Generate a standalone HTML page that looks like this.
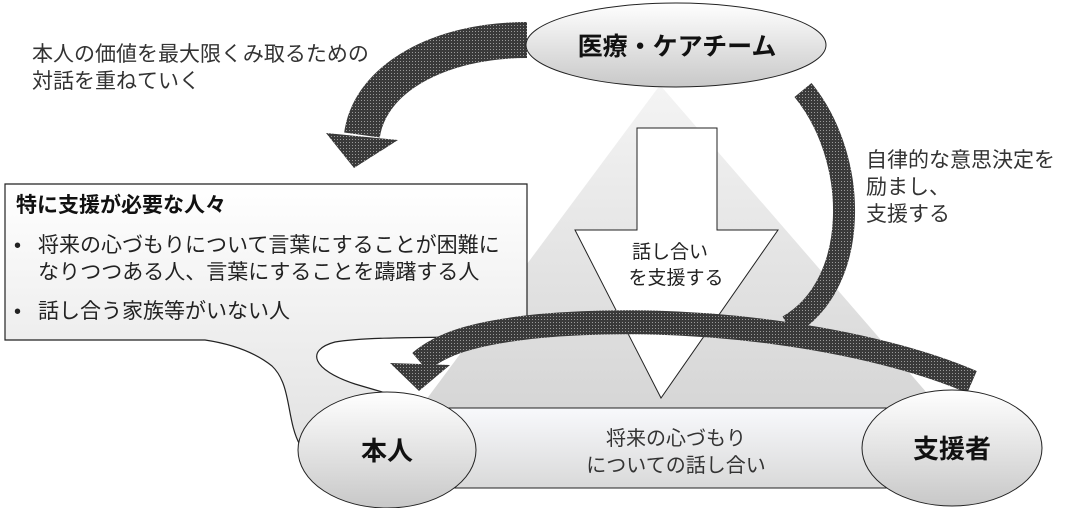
<!DOCTYPE html>
<html><head><meta charset="utf-8"><style>
body{margin:0;background:#fff;}
svg{display:block;font-family:"Liberation Sans","Noto Sans CJK JP",sans-serif;}
</style></head><body>
<svg width="1072" height="508" viewBox="0 0 1072 508" xmlns="http://www.w3.org/2000/svg">
<defs>
<pattern id="dots" width="3" height="3" patternUnits="userSpaceOnUse">
<rect width="3" height="3" fill="#3a3a3a"/><rect x="1" y="1" width="1" height="1" fill="#9a9a9a"/>
</pattern>
<linearGradient id="tri" x1="0" y1="0" x2="0" y2="1">
<stop offset="0" stop-color="#f4f4f4"/><stop offset="1" stop-color="#d6d6d6"/></linearGradient>
<linearGradient id="ell" x1="0" y1="0" x2="0" y2="1">
<stop offset="0" stop-color="#ffffff"/><stop offset="1" stop-color="#c8c8c8"/></linearGradient>
<linearGradient id="box" x1="0" y1="0" x2="0" y2="1">
<stop offset="0" stop-color="#ffffff"/><stop offset="1" stop-color="#e2e2e2"/></linearGradient>
<linearGradient id="bar" x1="0" y1="0" x2="0" y2="1">
<stop offset="0" stop-color="#f8f9fc"/><stop offset="1" stop-color="#d9d9d9"/></linearGradient>
</defs>

<polygon points="660,85 420,408 940,408" fill="url(#tri)"/>
<rect x="400" y="408" width="510" height="80" fill="url(#bar)" stroke="#222" stroke-width="1"/>
<text x="676" y="445" font-size="20" text-anchor="middle" fill="#333">将来の心づもり</text>
<text x="676" y="472" font-size="20" text-anchor="middle" fill="#333">についての話し合い</text>

<polygon points="637,128 717,128 717,230 778,230 661,398 575,230 637,230" fill="#fff" stroke="#222" stroke-width="1"/>
<text x="670" y="258" font-size="19" text-anchor="middle" fill="#222">話し合い</text>
<text x="676" y="284" font-size="19" text-anchor="middle" fill="#222">を支援する</text>

<path d="M5,184 H527 V336 C450,338 370,336 335,342 C305,350 312,370 355,384 C395,396 420,402 440,410 L300,445 C286,420 292,385 272,366 C252,350 225,343 205,340 H5 Z" fill="url(#box)" stroke="#222" stroke-width="1.2"/>
<text x="16" y="212" font-size="21" font-weight="bold" fill="#111">特に支援が必要な人々</text>
<text x="14" y="252" font-size="20" fill="#222">•</text>
<text x="38" y="252" font-size="21" fill="#222">将来の心づもりについて言葉にすることが困難に</text>
<text x="38" y="279" font-size="21" fill="#222">なりつつある人、言葉にすることを躊躇する人</text>
<text x="14" y="318" font-size="20" fill="#222">•</text>
<text x="38" y="318" font-size="21" fill="#222">話し合う家族等がいない人</text>

<path d="M527,40 C440,40 370,78 362,135" fill="none" stroke="url(#dots)" stroke-width="36"/>
<polygon points="326,133 398,140 354,168" fill="url(#dots)"/>
<path d="M803,90 C860,160 860,285 788,326" fill="none" stroke="url(#dots)" stroke-width="22"/>
<path d="M972,382 C870,338 690,312 540,326 C470,333 440,345 420,362" fill="none" stroke="url(#dots)" stroke-width="24"/>
<polygon points="390,363 450,365 419,391" fill="url(#dots)"/>

<ellipse cx="676" cy="45" rx="150" ry="42" fill="url(#ell)" stroke="#222" stroke-width="1"/>
<text x="677" y="55" font-size="25" font-weight="bold" text-anchor="middle" fill="#111">医療・ケアチーム</text>
<ellipse cx="387" cy="450" rx="89" ry="58" fill="url(#ell)" stroke="#222" stroke-width="1"/>
<text x="387" y="460" font-size="26" font-weight="bold" text-anchor="middle" fill="#111">本人</text>
<ellipse cx="952" cy="448" rx="90" ry="58" fill="url(#ell)" stroke="#222" stroke-width="1"/>
<text x="952" y="458" font-size="26" font-weight="bold" text-anchor="middle" fill="#111">支援者</text>

<text x="32" y="61" font-size="21" fill="#333">本人の価値を最大限くみ取るための</text>
<text x="32" y="88" font-size="21" fill="#333">対話を重ねていく</text>
<text x="866" y="167" font-size="21" fill="#333">自律的な意思決定を</text>
<text x="866" y="194" font-size="21" fill="#333">励まし、</text>
<text x="866" y="221" font-size="21" fill="#333">支援する</text>
</svg>
</body></html>
